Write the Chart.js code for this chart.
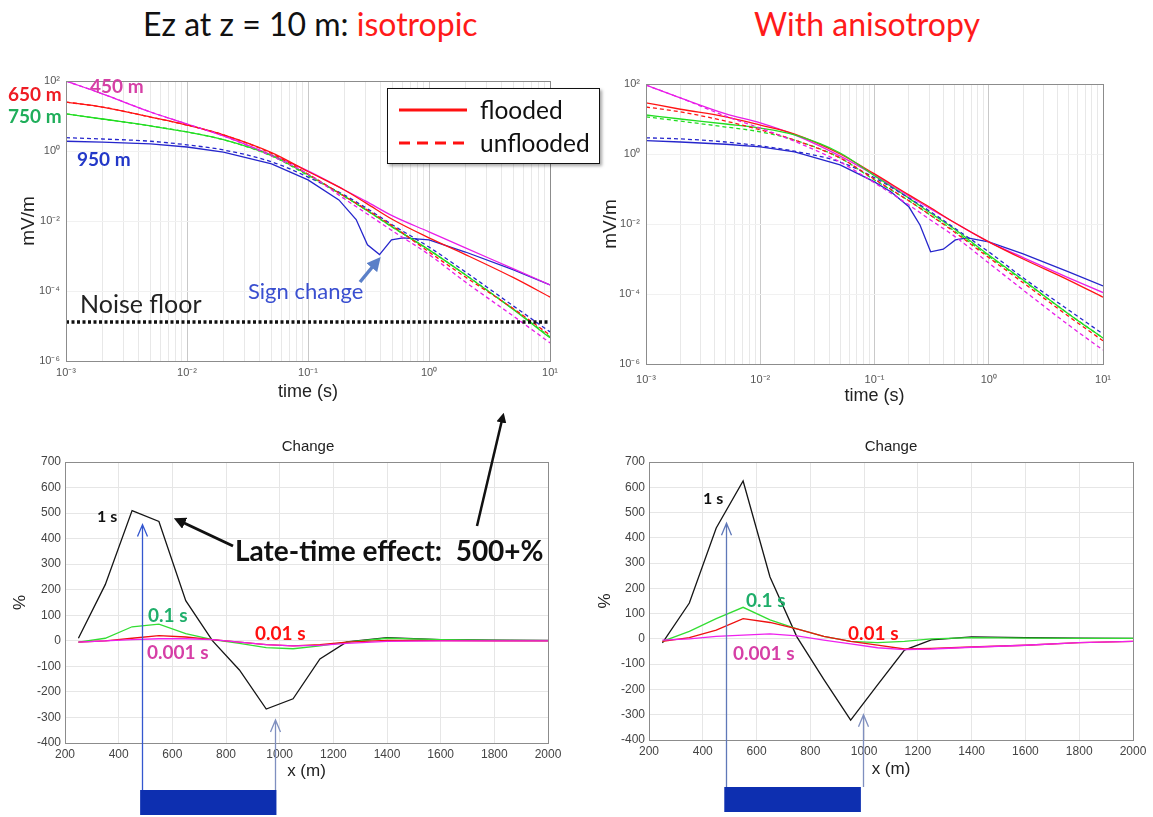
<!DOCTYPE html>
<html>
<head>
<meta charset="utf-8">
<script src="https://cdn.jsdelivr.net/npm/chart.js@4.4.1/dist/chart.umd.min.js"></script>
<style>
html, body { margin: 0; padding: 0; background: #fff; }
#page { position: relative; width: 1153px; height: 817px; overflow: hidden; font-family: Lato, "Open Sans", sans-serif; }
#page canvas { position: absolute; }
.lbl { position: absolute; white-space: nowrap; line-height: 1; transform: translateY(-50%); }
.b { font-weight: 700; }
#legend { position: absolute; left: 387px; top: 88px; width: 211px; height: 74px; border: 1.5px solid #111; background: #fff; box-shadow: 2px 2px 3px rgba(0,0,0,.35); }
#ann { position: absolute; left: 0; top: 0; pointer-events: none; }
</style>
</head>
<body>
<div id="page">
  <div class="lbl" style="left:143px;top:24px;font-size:32px;color:#111">Ez at z = 10 m: <span style="color:#ff1a1a">isotropic</span></div>
  <div class="lbl" style="left:754px;top:24px;font-size:32px;color:#ff1a1a">With anisotropy</div>

  <canvas id="isoTop" width="586" height="350" style="left:14px;top:60px"></canvas>
  <canvas id="aniTop" width="559" height="350" style="left:594px;top:60px"></canvas>
  <canvas id="isoChange" width="600" height="387" style="left:0px;top:430px"></canvas>
  <canvas id="aniChange" width="568" height="387" style="left:585px;top:430px"></canvas>

  <div class="lbl" style="left:308px;top:445px;transform:translate(-50%,-50%);font:15px Arial,'Liberation Sans',sans-serif;color:#222">Change</div>
  <div class="lbl" style="left:891px;top:445px;transform:translate(-50%,-50%);font:15px Arial,'Liberation Sans',sans-serif;color:#222">Change</div>

  <!-- curve labels, isotropic decay -->
  <div class="lbl b" style="left:90px;top:85px;font-size:19px;color:#d63fa6">450 m</div>
  <div class="lbl b" style="left:8px;top:93px;font-size:19px;color:#ee1c24">650 m</div>
  <div class="lbl b" style="left:8px;top:115px;font-size:19px;color:#1fae5a">750 m</div>
  <div class="lbl b" style="left:77px;top:158px;font-size:19px;color:#2338c8">950 m</div>
  <div class="lbl" style="left:80px;top:303px;font-size:25px;color:#222">Noise floor</div>
  <div class="lbl" style="left:248px;top:291px;font-size:22px;color:#3a4fd0">Sign change</div>

  <div id="legend">
    <svg width="80" height="74" style="position:absolute;left:0;top:0">
      <line x1="11" y1="21" x2="79" y2="21" stroke="#ff1010" stroke-width="3"/>
      <line x1="11" y1="54" x2="79" y2="54" stroke="#ff1010" stroke-width="3" stroke-dasharray="11 7"/>
    </svg>
    <div class="lbl" style="left:92px;top:21px;font-size:24.5px;color:#111">flooded</div>
    <div class="lbl" style="left:92px;top:54px;font-size:24.5px;color:#111">unflooded</div>
  </div>

  <!-- curve labels, change panels -->
  <div class="lbl b" style="left:97px;top:516px;font-size:16px;color:#111">1 s</div>
  <div class="lbl b" style="left:148px;top:614px;font-size:19px;color:#1fae6a">0.1 s</div>
  <div class="lbl b" style="left:255px;top:632px;font-size:19px;color:#ff1010">0.01 s</div>
  <div class="lbl b" style="left:147px;top:651px;font-size:19px;color:#d63fa6">0.001 s</div>
  <div class="lbl b" style="left:235px;top:550px;font-size:28px;color:#111">Late-time effect:&nbsp; 500+%</div>

  <div class="lbl b" style="left:703px;top:498px;font-size:16px;color:#111">1 s</div>
  <div class="lbl b" style="left:746px;top:599px;font-size:19px;color:#1fae6a">0.1 s</div>
  <div class="lbl b" style="left:848px;top:632px;font-size:19px;color:#ff1010">0.01 s</div>
  <div class="lbl b" style="left:733px;top:652px;font-size:19px;color:#d63fa6">0.001 s</div>

  <svg id="ann" width="1153" height="817">
    <defs>
      <marker id="headBlue" markerWidth="4" markerHeight="4" refX="1" refY="2" orient="auto"><path d="M0,0 L4,2 L0,4 z" fill="#5b80c8"/></marker>
      <marker id="headBlack" markerWidth="4" markerHeight="4" refX="1" refY="2" orient="auto"><path d="M0,0 L4,2 L0,4 z" fill="#111"/></marker>
    </defs>
    <line x1="360" y1="282" x2="374" y2="265" stroke="#5b80c8" stroke-width="3.5" marker-end="url(#headBlue)"/>
    <line x1="233" y1="546" x2="182" y2="522" stroke="#111" stroke-width="3" marker-end="url(#headBlack)"/>
    <line x1="477" y1="526" x2="502" y2="420" stroke="#111" stroke-width="2.5" marker-end="url(#headBlack)"/>
  </svg>
</div>

<script>
// ---- decay curves, Ez (mV/m) against time (s) ----
const times = [0.001, 0.002, 0.005, 0.01, 0.02, 0.05, 0.1, 0.2, 0.3, 0.5, 1, 2, 5, 10];

const iso450Flooded   = [100, 43, 13, 5.9, 2.7, 0.77, 0.27, 0.077, 0.037, 0.014, 0.0049, 0.0017, 4.3e-4, 1.5e-4];
const iso450Unflooded = [100, 43, 13, 5.9, 2.7, 0.72, 0.22, 0.043, 0.017, 0.0052, 0.0011, 1.8e-4, 1.9e-5, 3.3e-6];
const iso650Flooded   = [25, 18, 9.3, 5.5, 2.9, 0.9, 0.26, 0.077, 0.033, 0.011, 0.0033, 0.0011, 2.4e-4, 6.7e-5];
const iso650Unflooded = [25, 18, 9.3, 5.5, 2.9, 0.85, 0.22, 0.051, 0.022, 0.0072, 0.0013, 2.5e-4, 3.1e-5, 5.5e-6];
const iso750Flooded   = [11.5, 8.2, 5.2, 3.5, 2.1, 0.74, 0.21, 0.051, 0.021, 0.0067, 0.0015, 2.9e-4, 2.9e-5, 4.6e-6];
const iso750Unflooded = [11.5, 8.2, 5.2, 3.5, 2.1, 0.72, 0.2, 0.05, 0.021, 0.0066, 0.0015, 2.9e-4, 3.0e-5, 4.9e-6];
const iso950Unflooded = [2.4, 2.2, 1.9, 1.5, 1.07, 0.49, 0.18, 0.055, 0.024, 0.0077, 0.0018, 3.5e-4, 3.7e-5, 6.8e-6];
const isoBlueTimes    = [0.001, 0.002, 0.005, 0.01, 0.02, 0.05, 0.1, 0.18, 0.25, 0.31, 0.39, 0.49, 0.61, 1, 2, 5, 10];
const iso950Flooded   = [1.9, 1.8, 1.6, 1.3, 0.93, 0.43, 0.15, 0.04, 0.011, 0.0021, 0.0011, 0.0029, 0.0033, 0.0029, 0.0013, 4.0e-4, 1.5e-4];
const noiseFloor = 1.3e-5;

const ani450Flooded   = [93, 40, 14, 7.7, 3.5, 0.87, 0.25, 0.063, 0.029, 0.011, 0.0031, 0.0011, 2.9e-4, 1.1e-4];
const ani450Unflooded = [93, 40, 12, 5.5, 2.3, 0.59, 0.15, 0.035, 0.014, 0.0045, 7.7e-4, 1.3e-4, 1.3e-5, 2.5e-6];
const ani650Flooded   = [29, 19, 11.5, 6.7, 3.7, 1.0, 0.27, 0.068, 0.031, 0.011, 0.0031, 0.001, 2.5e-4, 8.1e-5];
const ani650Unflooded = [22, 16, 8.7, 4.9, 2.5, 0.77, 0.19, 0.046, 0.019, 0.0059, 0.0011, 2.1e-4, 2.3e-5, 4.6e-6];
const ani750Flooded   = [13, 10, 7.2, 5.5, 3.5, 1.07, 0.24, 0.055, 0.022, 0.0072, 0.0013, 2.5e-4, 2.7e-5, 5.5e-6];
const ani750Unflooded = [11.5, 8.7, 5.9, 4.3, 2.5, 0.77, 0.18, 0.046, 0.019, 0.0063, 0.0012, 2.4e-4, 2.7e-5, 5.5e-6];
const ani950Unflooded = [2.9, 2.7, 2.2, 1.7, 1.2, 0.59, 0.21, 0.055, 0.024, 0.0077, 0.0016, 2.9e-4, 3.5e-5, 7.2e-6];
const aniBlueTimes    = [0.001, 0.002, 0.005, 0.01, 0.02, 0.05, 0.1, 0.14, 0.2, 0.25, 0.31, 0.4, 0.51, 0.65, 1, 2, 5, 10];
const ani950Flooded   = [2.4, 2.2, 1.9, 1.6, 1.15, 0.49, 0.16, 0.082, 0.031, 0.0094, 0.0016, 0.0019, 0.0035, 0.004, 0.0031, 0.0014, 4.3e-4, 1.7e-4];

const timeDecades = [0.001, 0.01, 0.1, 1, 10];
const timeTickLabels = ['10\u207B\u00B3', '10\u207B\u00B2', '10\u207B\u00B9', '10\u2070', '10\u00B9'];
const fieldDecades = [1e-6, 1e-4, 1e-2, 1, 100];
const fieldTickLabels = ['10\u207B\u2076', '10\u207B\u2074', '10\u207B\u00B2', '10\u2070', '10\u00B2'];

// ---- % change against offset x (m) ----
const offsets = [250, 350, 450, 550, 650, 750, 850, 950, 1050, 1150, 1250, 1400, 1600, 1800, 2000];
const isoChange1s    = [10, 220, 510, 467, 157, 0, -114, -267, -227, -71, -4, 12, 5, 3, 2];
const isoChange01s   = [-5, 10, 55, 65, 28, 5, -10, -27, -31, -20, -5, 10, 5, 2, 1];
const isoChange001s  = [-5, 0, 10, 20, 15, 5, -5, -15, -20, -15, -5, 2, 1, 0, 0];
const isoChange0001s = [-5, 0, 5, 8, 8, 5, -5, -15, -20, -18, -10, -2, 0, 0, 0];
const aniChange1s    = [-16, 142, 439, 625, 245, 8, -160, -321, -182, -44, -4, 8, 5, 3, 2];
const aniChange01s   = [-10, 30, 80, 125, 75, 40, 10, -10, -15, -10, 0, 5, 3, 2, 2];
const aniChange001s  = [-10, 5, 35, 80, 65, 40, 10, -10, -25, -40, -38, -32, -25, -15, -10];
const aniChange0001s = [-5, 0, 10, 15, 20, 12, -5, -20, -35, -42, -40, -33, -25, -15, -10];

// flooded zone (m) and the arrow marks drawn up from it
const floodedZone = [480, 988];
const isoArrowX = [487, 983];
const isoArrowTip = [455, -310];
const aniArrowX = [485, 996];
const aniArrowTip = [458, -300];

const AXIS_FONT = 'Arial, "Liberation Sans", sans-serif';
const MAGENTA = '#e81ee8', RED = '#ff1414', GREEN = '#22dd22', BLUE = '#2626cc';

function labelFor(list, labels, v) {
    const i = list.findIndex(d => Math.abs(Math.log10(d) - Math.log10(v)) < 1e-6);
    return i < 0 ? '' : labels[i];
}

const timeTicks = timeDecades.slice(0, -1)
    .flatMap(d => [1, 2, 3, 4, 5, 6, 7, 8, 9].map(k => k * d))
    .concat([timeDecades[timeDecades.length - 1]]);

// box round the plot area, like the matlab axes
const framePlugin = {
    id: 'frame',
    afterDatasetsDraw(chart) {
        const {ctx, chartArea: a} = chart;
        ctx.save();
        ctx.strokeStyle = '#8c8c8c';
        ctx.lineWidth = 1;
        ctx.strokeRect(Math.round(a.left) + 0.5, Math.round(a.top) + 0.5,
            Math.round(a.right - a.left), Math.round(a.bottom - a.top));
        ctx.restore();
    }
};

// blue bar for the flooded zone and the two arrows pointing up to the curve
const zonePlugin = {
    id: 'zone',
    afterDraw(chart, args, opts) {
        if (!opts.arrowX) return;
        const {ctx, chartArea: a, scales: {x, y}} = chart;
        const barTop = a.bottom + 47;
        ctx.save();
        const x0 = x.getPixelForValue(opts.zone[0]);
        const x1 = x.getPixelForValue(opts.zone[1]);
        ctx.fillStyle = '#0d2fb0';
        ctx.fillRect(x0, barTop, x1 - x0, 25);
        opts.arrowX.forEach((v, i) => {
            const px = Math.round(x.getPixelForValue(v)) + 0.5;
            const py = y.getPixelForValue(opts.arrowTip[i]);
            ctx.strokeStyle = opts.colors[i];
            ctx.lineWidth = 1.3;
            ctx.beginPath();
            ctx.moveTo(px, barTop);
            ctx.lineTo(px, py);
            ctx.moveTo(px - 5, py + 12);
            ctx.lineTo(px, py);
            ctx.lineTo(px + 5, py + 12);
            ctx.stroke();
        });
        ctx.restore();
    }
};

function curve(label, xs, ys, color, dashed, smooth) {
    return {
        label: label,
        data: xs.map((t, i) => ({x: t, y: ys[i]})),
        borderColor: color,
        borderWidth: 1.3,
        borderDash: dashed ? [4, 3] : [],
        pointRadius: 0,
        cubicInterpolationMode: smooth ? 'monotone' : 'default',
        tension: 0,
        fill: false
    };
}

function decayChart(id, datasets, box) {
    return new Chart(document.getElementById(id), {
        type: 'line',
        data: {datasets: datasets},
        options: {
            responsive: false,
            animation: false,
            layout: {padding: {top: box.top, right: box.right, left: 0, bottom: 0}},
            plugins: {legend: {display: false}, tooltip: {enabled: false}},
            scales: {
                x: {
                    type: 'logarithmic',
                    min: timeDecades[0],
                    max: timeDecades[timeDecades.length - 1],
                    bounds: 'data',
                    afterBuildTicks: s => { s.ticks = timeTicks.map(v => ({value: v})); },
                    afterFit: s => { s.height = box.xHeight; },
                    ticks: {
                        autoSkip: false, maxRotation: 0, padding: box.tickPad,
                        color: '#555', font: {family: AXIS_FONT, size: 11},
                        callback: v => labelFor(timeDecades, timeTickLabels, v)
                    },
                    grid: {
                        drawTicks: false,
                        color: c => (c.tick && labelFor(timeDecades, timeTickLabels, c.tick.value)) ? '#c9c9c9' : '#e8e8e8'
                    },
                    border: {display: false},
                    title: {display: true, text: 'time (s)', color: '#222',
                        font: {family: AXIS_FONT, size: 18}, padding: {top: 0, bottom: box.xTitlePad}}
                },
                y: {
                    type: 'logarithmic',
                    min: fieldDecades[0],
                    max: fieldDecades[fieldDecades.length - 1],
                    bounds: 'data',
                    afterBuildTicks: s => { s.ticks = fieldDecades.map(v => ({value: v})); },
                    afterFit: s => { s.width = box.yWidth; },
                    ticks: {
                        padding: 6, color: '#555', font: {family: AXIS_FONT, size: 11},
                        callback: v => labelFor(fieldDecades, fieldTickLabels, v)
                    },
                    grid: {drawTicks: false, color: '#f1f1f1'},
                    border: {display: false},
                    title: {display: true, text: 'mV/m', color: '#222',
                        font: {family: AXIS_FONT, size: 19}, padding: {top: box.yTitlePad, bottom: 0}}
                }
            }
        },
        plugins: [framePlugin]
    });
}

function changeChart(id, series, marks, box) {
    return new Chart(document.getElementById(id), {
        type: 'line',
        data: {
            datasets: [
                curve('0.001 s', offsets, series[3], '#ee22ee', false, false),
                curve('0.01 s', offsets, series[2], '#ee1111', false, false),
                curve('0.1 s', offsets, series[1], '#33dd33', false, false),
                curve('1 s', offsets, series[0], '#151515', false, false)
            ]
        },
        options: {
            responsive: false,
            animation: false,
            layout: {padding: {top: 32, right: box.right, left: 0, bottom: 0}},
            plugins: {
                legend: {display: false},
                tooltip: {enabled: false},
                zone: marks
            },
            scales: {
                x: {
                    type: 'linear', min: 200, max: 2000,
                    afterFit: s => { s.height = box.xHeight; },
                    ticks: {stepSize: 200, padding: 4, color: '#444', maxRotation: 0,
                        font: {family: AXIS_FONT, size: 12}, callback: v => String(v)},
                    grid: {drawTicks: false, color: '#e6e6e6'},
                    border: {display: false},
                    title: {display: true, text: 'x (m)', color: '#222',
                        font: {family: AXIS_FONT, size: 17}, padding: {top: 0, bottom: box.xTitlePad}}
                },
                y: {
                    type: 'linear', min: -400, max: 700,
                    afterFit: s => { s.width = box.yWidth; },
                    ticks: {stepSize: 100, padding: 4, color: '#444',
                        font: {family: AXIS_FONT, size: 12}, callback: v => String(v)},
                    grid: {drawTicks: false, color: '#e6e6e6'},
                    border: {display: false},
                    title: {display: true, text: '%', color: '#222',
                        font: {family: AXIS_FONT, size: 17}, padding: {top: 10, bottom: 0}}
                }
            }
        },
        plugins: [framePlugin, zonePlugin]
    });
}

const noiseSet = {
    label: 'Noise floor',
    data: [{x: timeDecades[0], y: noiseFloor}, {x: timeDecades[timeDecades.length - 1], y: noiseFloor}],
    borderColor: '#111', borderWidth: 3.5, borderDash: [3, 2.5], pointRadius: 0
};

decayChart('isoTop', [
    noiseSet,
    curve('450 m unflooded', times, iso450Unflooded, MAGENTA, true, true),
    curve('650 m unflooded', times, iso650Unflooded, RED, true, true),
    curve('750 m unflooded', times, iso750Unflooded, GREEN, true, true),
    curve('950 m unflooded', times, iso950Unflooded, BLUE, true, true),
    curve('750 m flooded', times, iso750Flooded, GREEN, false, true),
    curve('650 m flooded', times, iso650Flooded, RED, false, true),
    curve('450 m flooded', times, iso450Flooded, MAGENTA, false, true),
    curve('950 m flooded', isoBlueTimes, iso950Flooded, BLUE, false, false)
], {top: 21, right: 50, yWidth: 52, xHeight: 49, tickPad: 5, xTitlePad: 7, yTitlePad: 3});

decayChart('aniTop', [
    curve('450 m unflooded', times, ani450Unflooded, MAGENTA, true, true),
    curve('650 m unflooded', times, ani650Unflooded, RED, true, true),
    curve('750 m unflooded', times, ani750Unflooded, GREEN, true, true),
    curve('950 m unflooded', times, ani950Unflooded, BLUE, true, true),
    curve('750 m flooded', times, ani750Flooded, GREEN, false, true),
    curve('650 m flooded', times, ani650Flooded, RED, false, true),
    curve('450 m flooded', times, ani450Flooded, MAGENTA, false, true),
    curve('950 m flooded', aniBlueTimes, ani950Flooded, BLUE, false, false)
], {top: 24, right: 50, yWidth: 52, xHeight: 46, tickPad: 9, xTitlePad: 3, yTitlePad: 5});

changeChart('isoChange', [isoChange1s, isoChange01s, isoChange001s, isoChange0001s],
    {zone: floodedZone, arrowX: isoArrowX, arrowTip: isoArrowTip, colors: ['#3457cf', '#7f8fbf']},
    {right: 52, yWidth: 65, xHeight: 74, xTitlePad: 35});

changeChart('aniChange', [aniChange1s, aniChange01s, aniChange001s, aniChange0001s],
    {zone: floodedZone, arrowX: aniArrowX, arrowTip: aniArrowTip, colors: ['#5f78b8', '#7f8fbf']},
    {right: 20, yWidth: 64, xHeight: 77, xTitlePad: 37});
</script>
</body>
</html>
